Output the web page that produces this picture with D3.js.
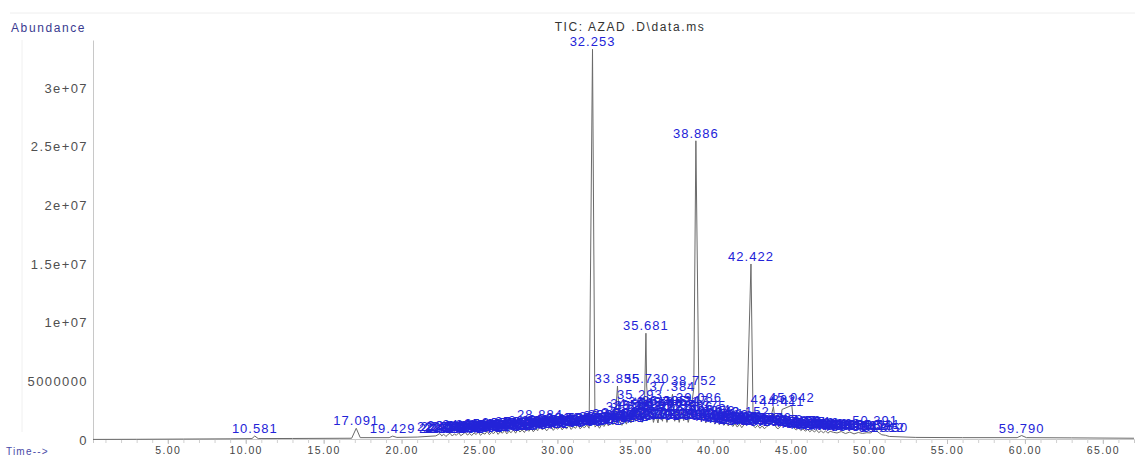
<!DOCTYPE html>
<html><head><meta charset="utf-8">
<script src="https://cdn.jsdelivr.net/npm/d3@7"></script>
<style>
body{margin:0;background:#fff}
svg{display:block}
text{font-family:"Liberation Sans",Arial,Helvetica,sans-serif}
</style>
</head><body>
<svg id="c" width="1135" height="457"></svg>
<script>
const title = "TIC: AZAD .D\\data.ms";
const yAxisTitle = "Abundance";
const xAxisTitle = "Time-->";
const xTicks = [5,10,15,20,25,30,35,40,45,50,55,60,65];
const xTickLabels = ["5.00","10.00","15.00","20.00","25.00","30.00","35.00","40.00","45.00","50.00","55.00","60.00","65.00"];
const yTicks = [0,5e6,1e7,1.5e7,2e7,2.5e7,3e7];
const yTickLabels = ["0","5000000","1e+07","1.5e+07","2e+07","2.5e+07","3e+07"];

// integrated peaks: retention time (min) and apex abundance (millions)
const peakTimes = [
10.581,17.091,19.429,22.458,
22.583,22.702,22.845,22.968,23.104,23.255,23.389,23.512,23.677,23.801,23.943,24.086,24.219,24.374,24.497,24.651,24.788,24.925,25.062,25.214,25.358,25.489,25.637,25.771,25.914,26.048,26.193,26.335,26.472,26.618,26.754,26.897,27.031,27.176,27.318,27.459,27.594,27.743,27.885,28.021,28.168,28.312,28.457,28.603,28.742,
28.884,
29.028,29.165,29.311,29.452,29.597,29.736,29.882,30.024,30.168,30.305,30.451,30.597,30.738,30.884,31.023,31.169,31.312,31.458,31.601,31.745,31.887,32.034,
32.253,
32.412,32.556,32.701,32.847,32.989,33.132,33.274,33.418,33.562,33.704,
33.855,
33.998,34.141,34.287,34.432,34.576,34.718,34.861,35.009,35.152,35.293,35.437,35.581,
35.681,35.730,
35.874,36.018,36.163,36.307,36.452,36.596,36.741,36.885,37.029,37.172,37.384,37.527,37.671,37.816,37.958,38.103,38.247,38.392,38.536,
38.752,38.886,39.086,
39.231,39.375,39.521,39.664,39.809,39.953,40.097,40.242,40.386,40.531,40.675,40.819,40.964,41.108,41.253,41.397,41.541,41.686,41.830,41.975,
42.152,42.422,
42.564,42.709,42.853,42.998,43.142,43.287,43.431,43.576,
43.862,44.017,44.161,44.306,44.411,45.042,
45.187,45.332,45.476,45.621,45.765,45.910,46.054,46.199,46.343,46.488,46.632,46.777,46.921,47.066,47.210,47.355,47.499,
47.728,47.944,48.212,48.487,48.761,49.034,49.308,49.581,49.855,50.128,
50.391,50.541,50.812,51.050,
59.790
];
const peakHeights = [
0.34,1.0,0.33,0.55,
0.35,0.50,0.30,0.45,0.58,0.34,0.52,0.40,0.62,0.36,0.50,0.66,0.42,0.56,0.38,0.60,0.47,0.70,0.40,0.58,0.50,0.74,0.45,0.64,0.55,0.78,0.48,0.70,0.58,0.82,0.52,0.75,0.62,0.88,0.58,0.92,0.68,0.85,0.64,0.96,0.74,1.00,0.70,0.94,0.80,
1.50,
0.85,1.05,0.78,1.00,1.15,0.82,1.05,0.92,1.20,0.86,1.10,0.95,1.25,0.90,1.12,1.00,1.30,0.95,1.15,1.05,1.30,1.00,
33.3,
1.10,1.30,1.00,1.35,1.15,1.45,1.20,1.50,1.30,1.60,
4.6,
1.50,1.25,1.70,1.35,2.20,1.45,2.50,1.60,2.30,3.20,1.50,2.40,
9.1,4.6,
1.70,2.60,1.50,2.20,1.45,2.50,1.60,2.70,1.50,2.30,3.90,1.60,2.60,1.50,2.40,1.65,2.70,1.50,2.20,
4.4,25.5,3.0,
1.60,2.30,1.45,2.00,1.50,1.90,1.35,1.75,1.30,1.60,1.25,1.50,1.20,1.45,1.15,1.40,1.10,1.35,1.05,1.30,
1.75,15.0,
1.20,1.05,1.25,1.00,1.20,0.95,1.15,1.25,
2.85,1.10,0.95,1.15,2.60,2.95,
1.00,0.85,1.05,0.80,0.95,0.75,0.90,0.70,0.88,0.68,0.85,0.62,0.80,0.60,0.78,0.58,0.74,
0.65,0.60,0.72,0.55,0.68,0.52,0.64,0.56,0.62,0.60,
1.05,0.70,0.45,0.40,
0.38
];
// baseline of the TIC trace outside the crowded region (min, millions)
const baseTimes = [0.2,3,6,9,10.4,10.8,13,16.8,17.35,19.2,19.7,21,22.2,51.3,53,56,59.5,60.1,63,67];
const baseValues = [0.05,0.06,0.08,0.10,0.12,0.12,0.13,0.15,0.20,0.20,0.22,0.25,0.35,0.30,0.22,0.20,0.20,0.20,0.18,0.15];

const svg = d3.select("#c");
const x = d3.scaleLinear().domain([0.2, 67]).range([93, 1134]);
const y = d3.scaleLinear().domain([0, 34.09e6]).range([440, 40]);

// faint frame lines
svg.append("line").attr("x1",10).attr("x2",1135).attr("y1",13).attr("y2",13).attr("stroke","#eeeeee");
svg.append("line").attr("x1",22).attr("x2",22).attr("y1",40).attr("y2",432).attr("stroke","#f0f0f0");

// y axis
const yAxis = d3.axisLeft(y).tickValues(yTicks).tickSize(0).tickPadding(5)
  .tickFormat((d,i)=>yTickLabels[i]);
const gy = svg.append("g").attr("transform","translate(93,0)").call(yAxis);
gy.select(".domain").attr("stroke","#c8c8c8");
gy.selectAll("text").attr("font-size",13).attr("fill","#505050").attr("letter-spacing","1.4px")
  .attr("font-family","'Liberation Sans',Arial,sans-serif");

// x axis
const minorTicks = d3.range(1, 67, 1);
const gxm = svg.append("g").attr("transform","translate(0,439)")
  .call(d3.axisBottom(x).tickValues(minorTicks).tickSize(4).tickFormat(""));
gxm.select(".domain").attr("stroke","#c8c8c8");
gxm.selectAll(".tick line").attr("stroke","#d0d0d0");
const gx = svg.append("g").attr("transform","translate(0,439)")
  .call(d3.axisBottom(x).tickValues(xTicks).tickSize(5).tickPadding(3).tickFormat((d,i)=>xTickLabels[i]));
gx.select(".domain").remove();
gx.selectAll(".tick line").attr("stroke","#c0c0c0");
gx.selectAll("text").attr("font-size",10.5).attr("fill","#444").attr("letter-spacing","1.4px")
  .attr("font-family","'Liberation Sans',Arial,sans-serif");

// TIC trace
const pts = baseTimes.map((t,i)=>[t, baseValues[i]*1e6])
  .concat(peakTimes.map((t,i)=>[t, peakHeights[i]*1e6]))
  .sort((a,b)=>a[0]-b[0]);
svg.append("path").datum(pts)
  .attr("fill","none").attr("stroke","#6a6a6a").attr("stroke-width",1)
  .attr("d", d3.line().x(d=>x(d[0])).y(d=>y(d[1])));

// peak labels
const fmt = d3.format(".3f");
svg.append("g").selectAll("text").data(peakTimes).join("text")
  .attr("x", d=>x(d))
  .attr("y", (d,i)=>y(peakHeights[i]*1e6)-3)
  .attr("text-anchor","middle")
  .attr("font-size",13).attr("letter-spacing","1px")
  .attr("fill","#2323d8")
  .text(d=>fmt(d));

// titles
svg.append("text").attr("x",630).attr("y",31).attr("text-anchor","middle")
  .attr("font-size",12).attr("letter-spacing","1.6px").attr("fill","#333").text(title);
svg.append("text").attr("x",11).attr("y",32)
  .attr("font-size",12).attr("letter-spacing","1.6px").attr("fill","#3a3a90").text(yAxisTitle);
svg.append("text").attr("x",6).attr("y",455)
  .attr("font-size",10).attr("letter-spacing","1.2px").attr("fill","#4a4aa8").text(xAxisTitle);
</script>
</body></html>
